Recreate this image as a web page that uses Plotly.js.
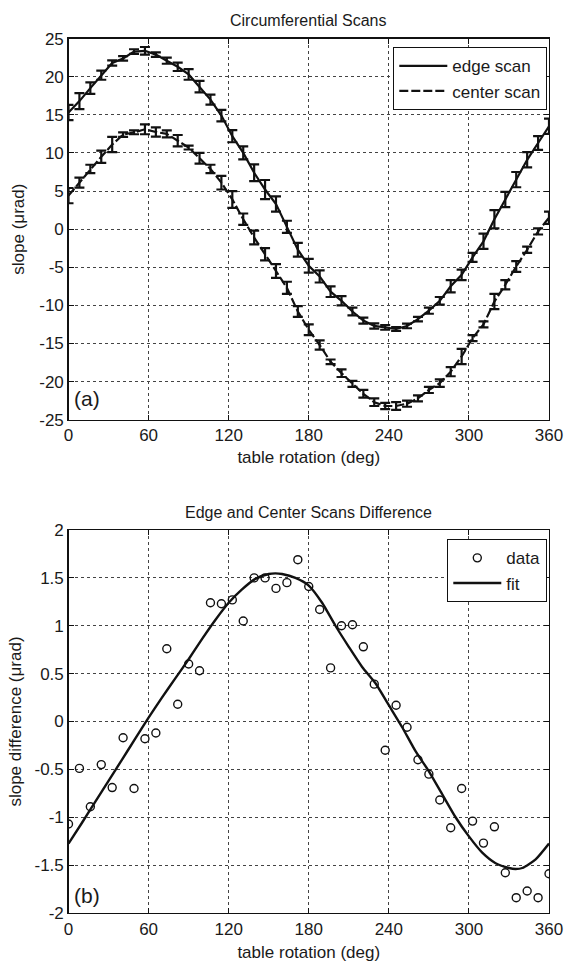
<!DOCTYPE html>
<html>
<head>
<meta charset="utf-8">
<script src="https://cdn.plot.ly/plotly-3.0.1.min.js"></script>
<style>html,body{margin:0;padding:0;background:#fff;}#chart{width:570px;height:963px;}</style>
</head>
<body>
<div id="chart"></div>
<script>
// table rotation angles (deg) for each sample
const angle = [0, 8.18, 16.36, 24.55, 32.73, 40.91, 49.09, 57.27, 65.45, 73.64, 81.82, 90, 98.18, 106.36, 114.55, 122.73, 130.91, 139.09, 147.27, 155.45, 163.64, 171.82, 180, 188.18, 196.36, 204.55, 212.73, 220.91, 229.09, 237.27, 245.45, 253.64, 261.82, 270, 278.18, 286.36, 294.55, 302.73, 310.91, 319.09, 327.27, 335.45, 343.64, 351.82, 360];

// (a) edge scan slope (µrad) and error
const edgeSlope = [15.3, 16.8, 18.5, 20.2, 21.8, 22.4, 23.3, 23.4, 22.9, 22.1, 21.3, 20.3, 18.7, 17.0, 14.9, 12.2, 10.0, 7.4, 5.2, 3.3, 0.3, -2.7, -4.8, -6.2, -8.2, -9.4, -10.8, -12.0, -12.7, -12.9, -13.1, -12.7, -11.8, -10.7, -9.4, -7.5, -6.0, -3.7, -1.6, 1.3, 3.9, 6.5, 9.1, 11.3, 13.5];
const edgeErr = [1.0, 1.05, 0.75, 0.6, 0.35, 0.3, 0.3, 0.5, 0.3, 0.4, 0.55, 0.7, 0.75, 0.65, 0.75, 0.8, 0.85, 1.1, 1.25, 1.0, 0.8, 0.9, 0.9, 0.8, 0.7, 0.6, 0.5, 0.4, 0.35, 0.3, 0.25, 0.3, 0.3, 0.4, 0.5, 0.8, 0.7, 0.6, 1.0, 1.2, 1.0, 1.0, 1.0, 0.9, 1.0];

// (a) center scan slope (µrad) and error
const centerSlope = [4.4, 6.1, 7.9, 9.5, 11.1, 12.4, 12.7, 13.1, 12.75, 12.5, 11.6, 10.7, 9.3, 7.9, 6.1, 3.9, 1.3, -1.1, -3.3, -5.5, -7.7, -10.8, -13.2, -15.2, -17.4, -18.9, -20.3, -21.6, -22.7, -23.2, -23.2, -22.9, -22.2, -21.1, -20.2, -18.7, -16.7, -14.3, -12.5, -9.5, -7.3, -4.9, -2.7, -0.3, 1.5];
const centerErr = [1.0, 0.65, 0.55, 0.8, 1.0, 0.3, 0.25, 0.65, 0.6, 0.45, 0.75, 0.25, 0.7, 0.55, 0.9, 1.1, 0.75, 0.9, 0.8, 0.9, 0.8, 0.7, 0.7, 0.6, 0.3, 0.5, 0.4, 0.5, 0.5, 0.4, 0.5, 0.4, 0.4, 0.4, 0.5, 0.6, 1.0, 0.4, 0.4, 1.0, 0.6, 0.7, 0.4, 0.4, 0.8];

// (b) slope difference data (µrad)
const diffData = [-1.07, -0.49, -0.89, -0.45, -0.69, -0.17, -0.70, -0.18, -0.12, 0.76, 0.18, 0.60, 0.53, 1.24, 1.23, 1.27, 1.05, 1.50, 1.50, 1.39, 1.45, 1.69, 1.41, 1.17, 0.56, 1.00, 1.01, 0.78, 0.39, -0.30, 0.17, -0.06, -0.40, -0.55, -0.82, -1.11, -0.70, -1.04, -1.27, -1.10, -1.58, -1.84, -1.77, -1.84, -1.59];

// (b) fit curve
const fitAngle = [0, 10, 20, 30, 40, 50, 60, 70, 80, 90, 100, 110, 120, 130, 140, 150, 155, 160, 170, 180, 190, 200, 210, 220, 230, 240, 250, 260, 270, 280, 290, 300, 310, 320, 330, 335, 340, 350, 360];
const fitValue = [-1.275, -1.06, -0.84, -0.62, -0.40, -0.18, 0.04, 0.25, 0.45, 0.65, 0.86, 1.06, 1.24, 1.38, 1.49, 1.54, 1.547, 1.54, 1.50, 1.42, 1.24, 1.00, 0.78, 0.57, 0.40, 0.17, -0.06, -0.31, -0.52, -0.76, -1.00, -1.20, -1.37, -1.48, -1.53, -1.54, -1.53, -1.44, -1.275];

// tick labels
const xTicks = [0, 60, 120, 180, 240, 300, 360];
const xTickText = ['0', '60', '120', '180', '240', '300', '360'];
const yTicksA = [25, 20, 15, 10, 5, 0, -5, -10, -15, -20, -25];
const yTickTextA = ['25', '20', '15', '10', '5', '0', '-5', '-10', '-15', '-20', '-25'];
const yTicksB = [2, 1.5, 1, 0.5, 0, -0.5, -1, -1.5, -2];
const yTickTextB = ['2', '1.5', '1', '0.5', '0', '-0.5', '-1', '-1.5', '-2'];

const FONT = 'Liberation Sans, Arial, sans-serif';
const TXT = '#1a1a1a';

const traces = [
  {
    x: angle, y: edgeSlope, type: 'scatter', mode: 'lines', name: 'edge scan',
    xaxis: 'x', yaxis: 'y', legend: 'legend',
    line: {color: '#111', width: 2.2},
    error_y: {type: 'data', array: edgeErr, visible: true, color: '#111', thickness: 2.2, width: 5}
  },
  {
    x: angle, y: centerSlope, type: 'scatter', mode: 'lines', name: 'center scan',
    xaxis: 'x', yaxis: 'y', legend: 'legend',
    line: {color: '#111', width: 2.2, dash: '9px,3px'},
    error_y: {type: 'data', array: centerErr, visible: true, color: '#111', thickness: 2.2, width: 5}
  },
  {
    x: angle, y: diffData, type: 'scatter', mode: 'markers', name: 'data',
    xaxis: 'x2', yaxis: 'y2', legend: 'legend2',
    marker: {symbol: 'circle-open', size: 8, color: '#111', line: {width: 1.4, color: '#111'}}
  },
  {
    x: fitAngle, y: fitValue, type: 'scatter', mode: 'lines', name: 'fit',
    xaxis: 'x2', yaxis: 'y2', legend: 'legend2',
    line: {color: '#111', width: 2.4, shape: 'spline', smoothing: 0.6}
  }
];

function axisBase() {
  return {
    showline: true, linecolor: '#111', linewidth: 1.3, mirror: 'allticks',
    ticks: 'inside', ticklen: 5, tickcolor: '#111', tickwidth: 1,
    showgrid: true, gridcolor: '#444', gridwidth: 1, griddash: 'dot',
    zeroline: false, tickfont: {family: FONT, size: 17, color: TXT},
    fixedrange: true
  };
}

const xDom = [68.5 / 570, 549 / 570];
const layout = {
  width: 570, height: 963,
  margin: {l: 0, r: 0, t: 0, b: 0},
  paper_bgcolor: '#fff', plot_bgcolor: '#fff',
  font: {family: FONT, color: TXT},
  xaxis: Object.assign(axisBase(), {
    domain: xDom, anchor: 'y', range: [0, 360], tickmode: 'array', tickvals: xTicks, ticktext: xTickText,
    title: {text: 'table rotation (deg)', font: {family: FONT, size: 17, color: TXT}, standoff: 6}
  }),
  yaxis: Object.assign(axisBase(), {
    domain: [1 - 419.7 / 963, 1 - 38.6 / 963], anchor: 'x', range: [-25, 25], tickmode: 'array', tickvals: yTicksA, ticktext: yTickTextA,
    title: {text: 'slope (μrad)', font: {family: FONT, size: 17, color: TXT}, standoff: 10}
  }),
  xaxis2: Object.assign(axisBase(), {
    domain: xDom, anchor: 'y2', range: [0, 360], tickmode: 'array', tickvals: xTicks, ticktext: xTickText,
    title: {text: 'table rotation (deg)', font: {family: FONT, size: 17, color: TXT}, standoff: 8}
  }),
  yaxis2: Object.assign(axisBase(), {
    domain: [1 - 913 / 963, 1 - 530 / 963], anchor: 'x2', range: [-2, 2], tickmode: 'array', tickvals: yTicksB, ticktext: yTickTextB,
    title: {text: 'slope difference (μrad)', font: {family: FONT, size: 17, color: TXT}, standoff: 8}
  }),
  legend: {
    x: 547 / 570, xanchor: 'right', y: 1 - 47 / 963, yanchor: 'top',
    bgcolor: '#fff', bordercolor: '#111', borderwidth: 1.3,
    font: {family: FONT, size: 17, color: TXT}, itemwidth: 48, tracegroupgap: 0
  },
  legend2: {
    x: 547 / 570, xanchor: 'right', y: 1 - 539 / 963, yanchor: 'top',
    bgcolor: '#fff', bordercolor: '#111', borderwidth: 1.3,
    font: {family: FONT, size: 17, color: TXT}, itemwidth: 48, tracegroupgap: 0
  },
  annotations: [
    {text: 'Circumferential Scans', xref: 'paper', yref: 'paper', x: 308.75 / 570, y: 1 - 20 / 963,
     xanchor: 'center', yanchor: 'middle', showarrow: false, font: {family: FONT, size: 16, color: TXT}},
    {text: 'Edge and Center Scans Difference', xref: 'paper', yref: 'paper', x: 308.75 / 570, y: 1 - 512 / 963,
     xanchor: 'center', yanchor: 'middle', showarrow: false, font: {family: FONT, size: 16, color: TXT}},
    {text: '(a)', xref: 'paper', yref: 'paper', x: 72 / 570, y: 1 - 399 / 963,
     xanchor: 'left', yanchor: 'middle', showarrow: false, font: {family: FONT, size: 21, color: TXT}},
    {text: '(b)', xref: 'paper', yref: 'paper', x: 72 / 570, y: 1 - 895 / 963,
     xanchor: 'left', yanchor: 'middle', showarrow: false, font: {family: FONT, size: 21, color: TXT}}
  ]
};

Plotly.newPlot('chart', traces, layout, {staticPlot: true, displayModeBar: false});
</script>
</body>
</html>
